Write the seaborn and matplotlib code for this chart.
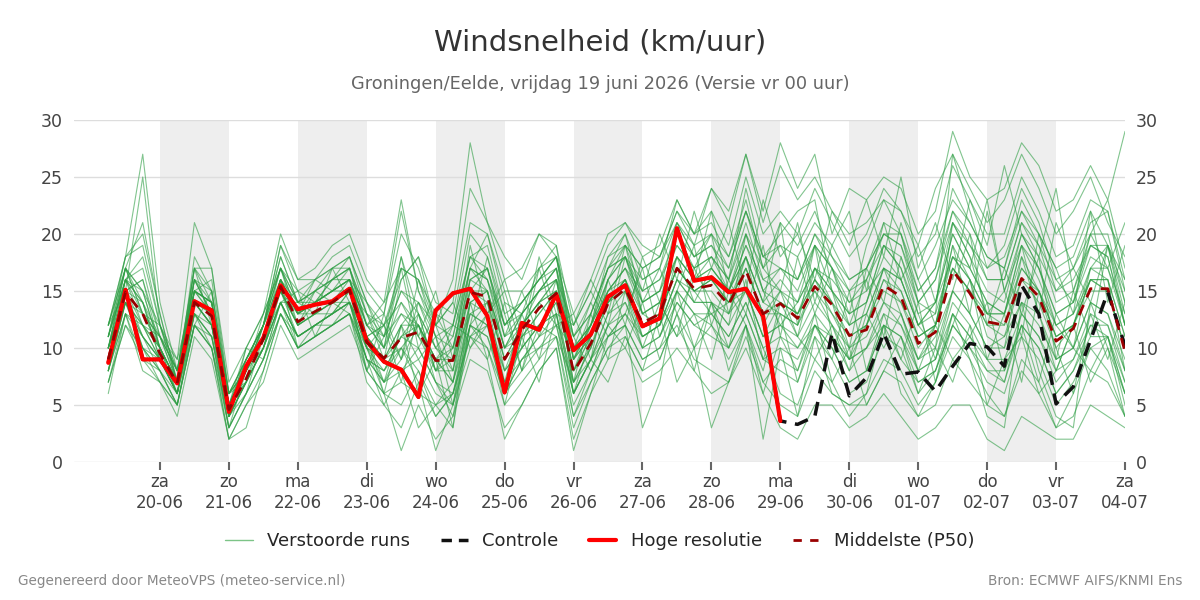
import numpy as np
import pandas as pd
import matplotlib
matplotlib.use("Agg")
import matplotlib.pyplot as plt
import seaborn as sns
from matplotlib.lines import Line2D

# 6-hourly time steps, 19-06 06:00 up to 04-07 00:00
times = pd.date_range("2026-06-19 06:00", periods=60, freq="6h")

# Middelste (P50)
median = [9.0, 14.9, 13.0, 9.5, 6.9, 14.0, 12.8, 4.6, 7.3, 10.8, 15.4, 12.3, 13.2, 14.0, 15.1,
          10.5, 9.1, 10.9, 11.4, 8.9, 8.9, 14.9, 14.5, 9.0, 11.6, 13.5, 14.8, 7.9, 10.4, 13.9,
          15.2, 12.2, 13.0, 17.0, 15.2, 15.5, 13.8, 16.8, 13.0, 13.9, 12.6, 15.4, 13.8, 11.1, 11.6,
          15.5, 14.5, 10.4, 11.4, 16.8, 14.8, 12.3, 12.0, 16.1, 14.5, 10.6, 11.7, 15.2, 15.2, 9.7]

# Hoge resolutie (only up to 29-06 00:00)
hres = [8.7, 15.1, 9.0, 9.0, 6.9, 14.1, 13.3, 4.4, 8.4, 10.9, 15.5, 13.4, 13.8, 14.1, 15.2,
        10.6, 8.8, 8.1, 5.7, 13.3, 14.8, 15.2, 12.8, 6.1, 12.2, 11.6, 14.7, 9.8, 11.2, 14.5,
        15.5, 11.9, 12.6, 20.5, 15.9, 16.2, 14.9, 15.2, 12.8, 3.6]

# Controle
control = hres[:39] + [3.6, 3.3, 4.0, 11.3, 5.8, 7.4, 11.3, 7.7, 7.9, 6.2, 8.4, 10.4, 10.1, 8.4,
                       15.5, 13.0, 5.1, 6.6, 10.7, 14.9, 10.2]

# Verstoorde runs (approximate)
members = [
    [10,17,14,9,6,15,13,4,8,11,16,13,14,15,16, 12,10,13,11,9,7,16,15,8,12,14,16,7,10,15, 17,13,12,18,14,17,15,18,12,15,11,17,14,9,12, 17,13,9,12,19,16,11,10,18,13,8,12,17,16,8],
    [11,16,18,12,7,17,14,5,7,12,18,14,15,16,17, 13,9,16,18,12,8,17,15,10,13,15,17,6,11,16, 18,15,16,19,17,14,12,20,15,12,14,19,11,9,14, 19,17,12,10,21,18,13,15,20,17,12,10,17,19,12],
    [8,14,10,8,5,13,11,3,6,9,14,11,12,13,14, 9,7,8,9,6,5,12,11,6,9,11,12,5,8,11, 12,9,10,14,12,11,10,13,9,8,7,11,9,6,7, 11,10,6,8,12,10,7,6,11,9,5,7,10,11,5],
    [12,18,27,14,8,16,15,5,9,12,17,13,16,17,18, 14,11,18,13,10,12,20,18,12,14,16,18,10,12,17, 19,17,18,22,20,21,18,23,17,19,16,20,18,15,17, 21,20,15,17,24,21,18,17,23,20,15,17,21,22,15],
    [9,15,12,10,7,14,12,5,7,11,15,12,13,14,15, 10,6,5,8,4,6,13,14,7,10,12,13,6,9,13, 14,10,11,15,13,13,11,14,10,6,5,9,7,4,6, 9,8,5,7,11,9,6,4,9,7,3,6,10,8,4],
    [10,15,16,11,8,17,17,6,8,12,19,15,14,16,17, 12,13,22,15,11,10,17,20,14,13,17,19,9,12,18, 20,14,15,21,18,19,16,24,18,20,22,23,15,13,19, 23,20,14,13,27,22,17,19,24,21,16,14,20,23,17],
    [7,13,9,7,5,12,10,2,5,8,13,10,11,12,13, 9,8,10,7,4,6,11,12,5,7,9,11,3,7,10, 11,8,9,13,10,12,9,12,7,9,8,12,10,7,8, 12,9,7,8,13,11,8,7,12,10,6,8,12,11,6],
    [11,17,21,13,7,15,14,6,9,11,17,13,15,16,17, 11,9,12,14,10,9,16,17,11,13,15,16,10,12,15, 17,14,15,18,16,18,15,19,16,15,14,17,16,14,15, 17,16,12,14,18,17,14,13,19,16,12,13,17,17,13],
    [8,13,11,8,6,13,12,4,7,10,14,11,12,13,14, 11,12,14,12,8,9,13,12,6,11,12,14,8,11,14, 16,11,12,16,15,13,14,15,11,14,13,15,12,10,11, 14,12,9,11,15,13,10,11,14,12,9,10,14,13,9],
    [12,17,15,10,7,16,13,5,8,11,16,13,14,15,15, 10,7,9,12,7,4,12,14,9,12,14,15,7,10,14, 16,12,13,17,15,16,14,18,14,13,12,16,13,11,12, 16,14,11,12,17,15,12,12,16,15,11,12,16,15,10],
    [10,14,13,11,8,15,14,5,8,12,16,14,15,16,18, 13,10,17,16,13,12,18,19,13,14,16,17,11,13,17, 18,16,17,21,19,20,17,22,18,19,18,21,19,16,17, 20,19,15,17,22,19,17,18,22,19,16,17,20,20,14],
    [9,16,14,9,6,14,13,4,7,10,15,12,13,14,14, 9,5,3,7,1,5,14,13,6,9,11,13,4,8,12, 13,11,12,16,14,14,13,15,11,12,10,13,11,8,10, 13,12,8,9,14,12,9,7,13,11,7,9,13,12,7],
    [8,14,12,9,6,14,12,5,8,11,15,12,13,13,15, 11,9,11,13,10,8,14,15,10,11,13,15,9,11,14, 15,12,13,17,15,16,14,17,13,14,13,16,14,11,12, 16,15,11,12,17,15,13,12,17,15,11,12,16,15,10],
    [11,16,14,10,7,16,13,4,9,12,17,14,14,16,16, 12,10,14,11,8,10,17,16,11,12,15,16,8,12,16, 19,13,14,20,17,18,16,20,15,17,15,19,17,13,14, 19,17,13,14,21,18,15,14,20,17,13,14,19,18,12],
    [7,12,9,8,5,12,11,3,6,9,13,10,11,12,13, 9,8,11,10,7,6,12,11,7,9,10,12,6,9,11, 13,10,11,14,12,13,11,14,10,11,10,12,11,9,10, 12,11,8,9,13,11,9,9,13,11,8,9,12,12,8],
    [10,15,13,10,7,14,13,5,8,11,15,13,13,14,15, 8,11,15,13,8,8,15,14,9,12,14,15,8,11,14, 16,12,13,17,15,16,14,17,13,15,13,16,14,12,13, 17,15,11,12,18,16,13,13,18,15,11,12,16,16,11],
    [12,18,19,12,8,17,15,6,9,12,18,14,16,17,18, 14,12,16,18,14,13,21,20,15,15,17,18,11,13,17, 20,16,17,23,20,22,19,25,20,22,20,24,21,18,20, 24,22,18,20,26,23,20,20,25,22,18,19,23,22,16],
    [9,14,11,9,6,13,11,4,7,10,14,11,12,13,14, 10,9,10,8,5,7,13,12,8,10,12,13,7,9,12, 14,11,12,15,13,12,10,13,9,10,9,12,10,7,8, 12,11,7,8,12,10,8,8,12,10,6,8,11,11,7],
    [8,15,16,10,7,15,14,5,8,11,16,12,14,15,16, 11,7,10,12,9,11,17,16,10,13,15,17,9,12,16, 18,14,15,19,17,18,16,21,16,17,16,19,17,14,16, 20,19,14,16,22,20,16,16,21,19,14,15,19,18,12],
    [10,16,12,9,6,14,12,4,7,10,14,11,12,13,14, 10,9,8,10,7,5,11,13,8,10,12,14,6,9,13, 15,11,12,16,14,14,12,15,11,12,11,14,12,9,10, 14,13,9,10,15,13,10,10,14,13,9,10,14,13,8],
    [10,15,25,12,7,18,15,6,8,12,19,16,16,18,19, 15,13,20,17,12,14,24,21,16,17,20,19,12,15,19, 21,18,19,23,20,24,21,27,22,28,24,27,20,24,23, 25,24,20,22,29,25,23,24,28,26,22,23,26,23,29],
    [6,13,8,7,4,11,9,2,5,7,12,9,10,11,12, 8,6,1,5,2,4,9,8,3,5,8,10,2,6,9, 10,7,8,10,8,6,7,10,6,3,2,5,5,3,4, 6,4,2,3,5,5,2,1,4,3,2,2,5,4,3],
    [11,17,13,11,9,21,17,7,10,13,20,16,17,19,20, 16,14,23,15,12,16,28,21,18,16,20,18,13,16,20, 21,19,18,22,19,24,22,27,21,26,23,25,22,20,21, 23,22,19,24,27,24,21,23,27,24,20,22,25,21,18],
    [7,12,10,8,5,12,10,2,3,8,13,10,11,12,13, 7,5,8,3,5,3,14,9,2,5,8,10,1,6,11, 12,3,7,15,10,3,7,12,2,10,4,11,6,5,6, 12,6,4,7,13,9,4,3,14,8,4,3,14,10,4],
    [9,15,14,11,7,15,14,5,8,12,16,13,14,15,16, 12,11,13,12,9,10,16,17,12,13,15,17,10,12,15, 17,15,16,20,18,19,17,22,18,17,16,20,17,15,16, 19,18,14,16,21,19,16,16,21,18,15,16,19,19,14],
    [12,17,15,12,8,16,13,5,10,13,17,14,15,17,17, 13,11,15,14,12,11,18,17,12,14,16,18,11,14,18, 19,17,18,21,18,20,18,22,17,21,19,22,18,16,17, 20,20,16,19,23,21,18,17,22,20,17,18,22,19,15],
    [8,14,10,7,5,12,10,3,6,9,14,10,11,12,13, 8,6,7,6,5,6,11,10,6,8,10,11,4,7,10, 12,9,10,12,9,8,7,11,7,5,4,8,6,5,5, 8,7,4,5,9,7,5,4,8,6,3,4,8,7,4],
    [10,16,17,11,7,16,14,5,8,11,16,13,14,15,16, 11,12,17,16,11,12,18,16,12,14,16,18,9,13,17, 18,13,14,18,16,17,15,19,15,14,13,17,15,13,14, 18,16,12,14,20,17,14,13,19,17,13,14,18,17,12],
    [9,14,11,9,6,14,12,4,7,10,15,12,13,14,15, 11,9,12,12,9,9,15,15,10,12,14,16,9,11,15, 16,13,14,18,16,17,15,18,14,16,14,17,15,12,13, 17,16,12,13,18,16,13,13,17,15,12,13,16,16,11],
    [11,16,13,10,7,15,13,5,8,11,16,13,14,15,16, 10,8,11,12,9,7,14,15,9,11,13,15,8,10,14, 16,12,13,17,15,15,13,17,13,13,12,15,13,10,12, 15,14,10,12,17,15,12,11,16,14,10,12,15,15,10],
    [9,16,15,10,6,13,11,5,9,12,15,11,12,13,15, 13,12,9,14,11,7,12,18,13,8,14,12,10,14,11, 13,17,11,15,19,12,16,13,19,11,18,13,17,12,16, 11,18,13,9,15,20,12,17,13,18,9,15,11,19,13],
    [10,14,12,11,8,15,16,6,7,10,14,14,13,17,14, 8,13,9,16,12,14,10,13,15,10,17,12,13,9,16, 12,18,14,11,17,20,13,18,14,21,12,19,15,10,17, 14,21,16,12,19,13,22,15,11,20,17,13,22,14,19],
    [12,15,11,9,7,13,10,4,10,9,13,11,12,12,14, 11,6,12,9,11,5,10,12,7,13,9,15,11,8,12, 10,14,9,13,8,14,10,16,9,13,7,12,9,15,8, 13,9,14,7,12,16,9,13,7,15,10,6,13,9,14],
    [11,18,20,13,7,17,12,6,8,13,17,12,15,14,16, 14,10,18,11,15,9,19,13,16,11,18,13,12,16,13, 19,15,20,16,22,17,21,15,23,18,20,16,22,19,23, 18,25,17,21,16,23,19,26,20,18,24,15,20,17,21],
    [8,13,12,10,6,12,15,4,6,11,14,15,11,14,13, 10,12,7,13,8,12,11,9,14,8,12,11,7,13,9, 15,10,14,11,13,9,15,12,8,14,11,9,12,8,13, 10,13,8,12,9,11,14,8,12,7,13,10,8,11,6],
    [10,17,13,12,9,15,14,6,9,12,17,15,16,15,17, 12,14,17,10,13,10,15,17,11,15,11,16,12,15,12, 18,14,17,13,16,22,15,20,17,15,21,14,19,22,15, 21,16,19,14,20,17,23,15,19,13,21,17,14,19,16],
    [9,15,10,9,6,14,12,3,8,10,16,10,12,13,14, 9,7,12,6,9,3,12,10,5,11,7,13,6,9,7, 11,8,13,7,10,14,8,12,6,11,8,13,7,10,5, 8,11,6,10,7,12,5,9,11,6,8,12,7,10,6],
]

weekdays = ["za", "zo", "ma", "di", "wo", "do", "vr", "za", "zo", "ma", "di", "wo", "do", "vr", "za"]
datelabels = ["20-06", "21-06", "22-06", "23-06", "24-06", "25-06", "26-06", "27-06",
              "28-06", "29-06", "30-06", "01-07", "02-07", "03-07", "04-07"]

ens_df = pd.DataFrame(
    [(m, times[i], v) for m, row in enumerate(members) for i, v in enumerate(row)],
    columns=["member", "time", "wind"],
)
main_df = pd.DataFrame({"time": times, "median": median, "control": control})
hres_df = pd.DataFrame({"time": times[:len(hres)], "hres": hres})

sns.set_theme(style="white")
plt.rcParams["font.family"] = ["DejaVu Sans"]

fig = plt.figure(figsize=(12, 6), dpi=100)
ax = fig.add_axes([0.0615, 0.23, 0.876, 0.57])

# alternating day shading
day_starts = pd.date_range("2026-06-20", periods=15, freq="D")
for k in range(0, 14, 2):
    ax.axvspan(day_starts[k], day_starts[k + 1], color="#eeeeee", lw=0, zorder=0)

sns.lineplot(data=ens_df, x="time", y="wind", units="member", estimator=None,
             color="#2e9e44", alpha=0.6, lw=0.8, ax=ax, legend=False, zorder=2)
sns.lineplot(data=main_df, x="time", y="control", color="#111111", lw=2.5,
             ax=ax, zorder=3).lines[-1].set_dashes([4, 2.5])
sns.lineplot(data=hres_df, x="time", y="hres", color="#ff0000", lw=3, ax=ax, zorder=4)
sns.lineplot(data=main_df, x="time", y="median", color="#990000", lw=2, ax=ax, zorder=5).lines[-1].set_dashes([4, 3])

ax.set_xlim(pd.Timestamp("2026-06-18 18:00"), pd.Timestamp("2026-07-04 00:00"))
ax.set_ylim(0, 30)
ax.set_yticks(range(0, 31, 5))
ax.grid(axis="y", color="#dddddd", lw=1)
ax.set_axisbelow(True)
for s in ax.spines.values():
    s.set_visible(False)

ax.set_xticks(day_starts)
ax.set_xticklabels([f"{w}\n{d}" for w, d in zip(weekdays, datelabels)])
ax.tick_params(axis="x", length=6, width=1.5, color="#666666", labelsize=12, labelcolor="#444444", pad=2, bottom=True)
ax.tick_params(axis="y", length=0, labelsize=12.5, labelcolor="#444444", pad=8, right=True, labelright=True)
ax.set_xlabel("")
ax.set_ylabel("")

fig.text(0.5, 0.93, "Windsnelheid (km/uur)", ha="center", va="center", fontsize=21, color="#333333")
fig.text(0.5, 0.86, "Groningen/Eelde, vrijdag 19 juni 2026 (Versie vr 00 uur)", ha="center", va="center",
         fontsize=12.8, color="#666666")

handles = [
    Line2D([], [], color="#7cc487", lw=1),
    Line2D([], [], color="#111111", lw=2.5, dashes=[3, 2]),
    Line2D([], [], color="#ff0000", lw=3),
    Line2D([], [], color="#990000", lw=2, dashes=[3, 3]),
]
fig.legend(handles, ["Verstoorde runs", "Controle", "Hoge resolutie", "Middelste (P50)"],
           loc="center", bbox_to_anchor=(0.5, 0.098), ncol=4, frameon=False, fontsize=13,
           handlelength=1.5, handletextpad=0.8, columnspacing=1.7)

fig.text(0.015, 0.032, "Gegenereerd door MeteoVPS (meteo-service.nl)", fontsize=9.8, color="#888888", va="center")
fig.text(0.985, 0.032, "Bron: ECMWF AIFS/KNMI Ens", fontsize=9.8, color="#888888", va="center", ha="right")

fig.savefig("out.png", dpi=100)
